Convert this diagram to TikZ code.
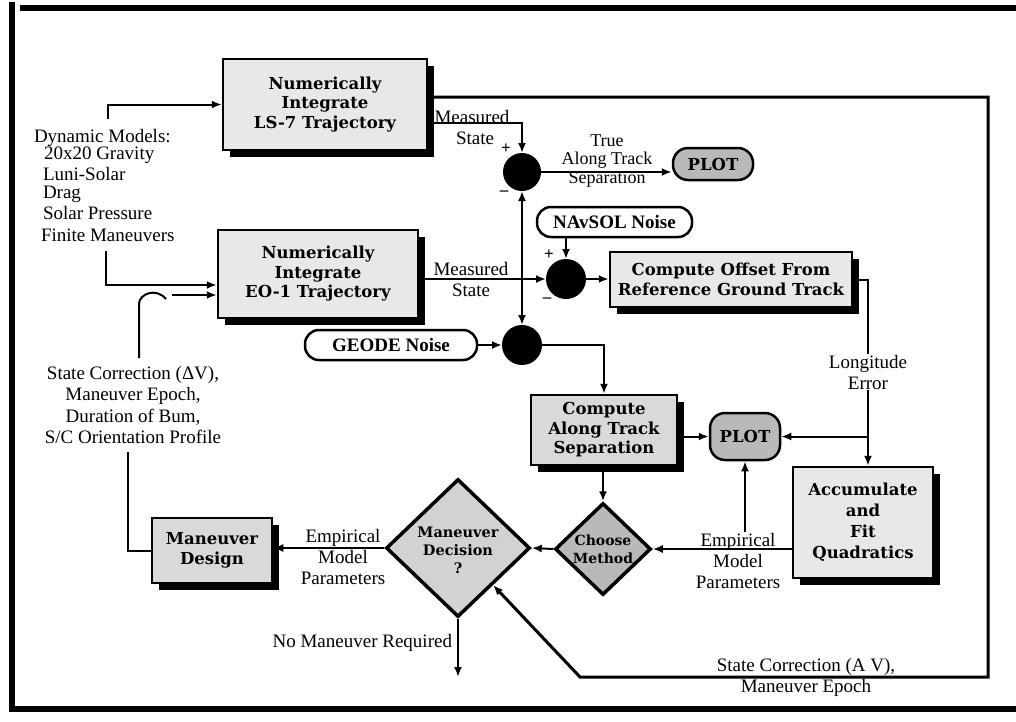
\documentclass[tikz,border=0pt]{standalone}
\usepackage{fontspec}
\setmainfont{Liberation Serif}
\newfontfamily\boxfont{DejaVu Serif}
\usetikzlibrary{shapes.geometric,shadows,arrows.meta,calc}
\begin{document}
\begin{tikzpicture}[x=1pt,y=-1pt,line width=2pt,
  arr/.style={-{Latex[length=10pt,width=8pt]}},
  fb/.style={line width=3pt},
  lab/.style={font=\fontsize{19}{21}\selectfont, align=center, inner sep=0pt},
  bt/.style={font=\boxfont\bfseries\fontsize{16.5}{19.5}\selectfont, align=center, inner sep=0pt},
  procbox/.style={draw, line width=2.5pt, fill=gray!18, bt,
     drop shadow={fill=black, opacity=1, shadow xshift=7pt, shadow yshift=-7pt}},
  plotbox/.style={draw, line width=2.5pt, rounded corners=15pt, fill=gray!55, bt},
  noisebox/.style={draw, line width=2.5pt, rounded corners=14pt, fill=white,
     font=\bfseries\fontsize{19}{21}\selectfont, inner sep=0pt},
  sum/.style={circle, fill=black, draw=black, inner sep=0pt},
  dia/.style={diamond, draw, line width=3.5pt, inner sep=0pt},
  sgn/.style={font=\bfseries\fontsize{17}{17}\selectfont, inner sep=0pt}
]
\useasboundingbox (0,0) rectangle (1016,721);
\fill[white] (0,0) rectangle (1016,721);
% frame
\draw[line width=6pt] (12,2) -- (12,712);
\draw[line width=6pt] (20,8) -- (1016,8);
\draw[line width=6pt] (9,709) -- (1016,709);

% process boxes
\node[procbox, minimum width=204, minimum height=91] (ls7) at (325,104.5) {Numerically\\Integrate\\LS-7 Trajectory};
\node[procbox, minimum width=200, minimum height=88] (eo1) at (318,274) {Numerically\\Integrate\\EO-1 Trajectory};
\node[procbox, minimum width=242, minimum height=55] (offset) at (731,279.5) {Compute Offset From\\Reference Ground Track};
\node[procbox, fill=gray!30, minimum width=146, minimum height=70] (cats) at (604,430) {Compute\\Along Track\\Separation};
\node[procbox, minimum width=140, minimum height=111, font=\boxfont\bfseries\fontsize{16.5}{21}\selectfont] (accum) at (863,522.5) {Accumulate\\and\\Fit\\Quadratics};
\node[procbox, fill=gray!30, minimum width=120, minimum height=65] (mdesign) at (212,550.5) {Maneuver\\Design};

% plot boxes
\node[plotbox, minimum width=80, minimum height=32] (plot1) at (713,164) {PLOT};
\node[plotbox, minimum width=70, minimum height=47] (plot2) at (745,436.5) {PLOT};

% noise boxes
\node[noisebox, minimum width=155, minimum height=30] (navsol) at (614.5,222) {NAvSOL Noise};
\node[noisebox, minimum width=172, minimum height=30] (geode) at (391,345) {GEODE Noise};

% summing junctions
\node[sum, minimum size=36] (c1) at (522,172) {};
\node[sum, minimum size=38] (c2) at (566,279) {};
\node[sum, minimum size=38] (c3) at (522,345) {};
\node[sgn] (p1) at (506,149) {+};
\node[sgn] (m1) at (504,193) {--};
\node[sgn] (p2) at (549,255) {+};
\node[sgn] (m2) at (547,300) {--};

% diamonds
\node[dia, fill=gray!55, minimum width=96, minimum height=92] (choose) at (603,549) {};
\node[bt, font=\boxfont\bfseries\fontsize{14}{18}\selectfont] (choosetxt) at (choose) {Choose\\Method};
\node[dia, fill=gray!35, minimum width=144, minimum height=138] (md) at (458,548) {};
\node[bt, font=\boxfont\bfseries\fontsize{14.5}{18}\selectfont] (mdtxt) at ([yshift=-2pt]md.center) {Maneuver\\Decision\\?};

% labels
\node[font=\fontsize{19}{21}\selectfont, anchor=base west, inner sep=0pt] (dm0) at (33,142) {Dynamic Models:};
\node[font=\fontsize{19}{21}\selectfont, anchor=base west, inner sep=0pt] (dm1) at (43,159) {20x20 Gravity};
\node[font=\fontsize{19}{21}\selectfont, anchor=base west, inner sep=0pt] (dm2) at (42,180) {Luni-Solar};
\node[font=\fontsize{19}{21}\selectfont, anchor=base west, inner sep=0pt] (dm3) at (42,198) {Drag};
\node[font=\fontsize{19}{21}\selectfont, anchor=base west, inner sep=0pt] (dm4) at (42,219) {Solar Pressure};
\node[font=\fontsize{19}{21}\selectfont, anchor=base west, inner sep=0pt] (dm5) at (40,241) {Finite Maneuvers};

\node[lab] (ms1) at (472,127) {Measured\\\hspace*{6pt}State};
\node[lab] (ms2) at (471,279) {Measured\\State};
\node[lab, font=\fontsize{18}{18.5}\selectfont] (tats) at (607,161) {True\\Along Track\\Separation};
\node[lab] (lon) at (868,372) {Longitude\\Error};
\node[lab] (emp2) at (738,561) {Empirical\\Model\\Parameters};
\node[lab] (emp1) at (343,557) {Empirical\\Model\\Parameters};
\node[lab, anchor=east] (nmr) at (453,643) {No Maneuver Required};
\node[lab] (scfb) at (806,677) {State Correction (A V),\\Maneuver Epoch};
\node[lab, font=\fontsize{19}{21.5}\selectfont] (scl) at (133,405) {State Correction (ΔV),\\Maneuver Epoch,\\Duration of Bum,\\S/C Orientation Profile};

% free-end coordinates
\coordinate (dynA) at (108,119);
\coordinate (finA) at (106,251);
\coordinate (hkbot) at (139,358);
\coordinate (hktop) at (139,304);
\coordinate (hkend) at (166,299);
\coordinate (hkarr) at (172,295);
\coordinate (scbot) at (128,452);
\coordinate (jn) at (522,279);
\coordinate (nmrend) at (458,677);
\coordinate (fbtr) at (988,97);
\coordinate (fbbr) at (988,677);
\coordinate (fbbl) at (580,677);

% connectors
\draw[arr] (dynA) |- (ls7.west);
\draw[arr] (finA) |- ([yshift=-11pt]eo1.west);
\draw (hkbot) -- (hktop) .. controls (139,294) and (156,287) .. (hkend);
\draw[arr] (hkarr) -- (hkarr -| eo1.west);
\draw (scbot) |- (mdesign.west);

\draw[arr] ([yshift=-18.5pt]ls7.east) -| (c1.north);
\draw[arr] (c1.east) -- (plot1.west |- c1.east);
\draw[arr] (eo1.east |- c2.west) -- (c2.west);
\draw[arr] (jn) -- (c1.south);
\draw[arr] (jn) -- (c3.north);
\draw[arr] (navsol.south -| c2) -- (c2.north);
\draw[arr] (c2.east) -- (offset.west |- c2.east);
\draw[arr] (geode.east) -- (c3.west);
\draw[arr] (c3.east) -| (cats.north);

\draw (offset.east) -| (lon.north);
\draw[arr] (lon.south) -- (lon.south |- accum.north);
\draw[arr] (lon.south |- plot2.east) -- (plot2.east);
\draw[arr] (cats.east |- plot2.west) -- (plot2.west);
\draw[arr] (cats.south -| choose.north) -- (choose.north);
\draw[arr] (accum.west |- choose.east) -- (choose.east);
\draw[arr] (emp2.north -| plot2.south) -- (plot2.south);
\draw[arr] (choose.west) -- (md.east);
\draw[arr] (md.west) -- (mdesign.east |- md.west);
\draw[arr] (md.south) -- (nmrend);

% feedback loop
\draw[fb, arr] ([yshift=7.5pt]ls7.east) -- (fbtr) -- (fbbr) -- (fbbl) -- (md);
\end{tikzpicture}
\end{document}
